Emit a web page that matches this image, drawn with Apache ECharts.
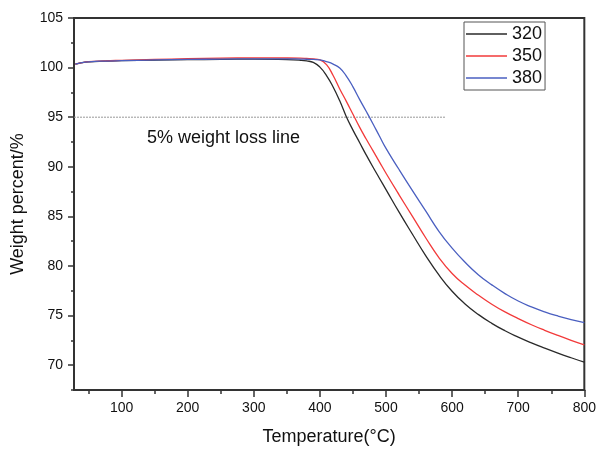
<!DOCTYPE html>
<html>
<head>
<meta charset="utf-8">
<script src="https://cdn.jsdelivr.net/npm/echarts@6/dist/echarts.min.js"></script>
<style>html,body{margin:0;padding:0;background:#fff}#c{width:599px;height:451px}</style>
</head>
<body>
<div id="c"></div>
<script>
const temps = [30, 40, 50, 75, 100, 150, 200, 250, 300, 350, 370, 380, 390, 400, 410, 420, 430, 440, 450, 460, 470, 480, 490, 500, 520, 540, 560, 580, 600, 620, 640, 660, 680, 700, 720, 740, 760, 780, 800];
const w320 = [100.35, 100.5, 100.58, 100.65, 100.7, 100.75, 100.8, 100.83, 100.85, 100.8, 100.74, 100.67, 100.52, 100.05, 99.2, 98.05, 96.65, 95.05, 93.7, 92.45, 91.2, 90.0, 88.85, 87.7, 85.4, 83.2, 81.05, 79.1, 77.45, 76.15, 75.1, 74.22, 73.47, 72.83, 72.25, 71.72, 71.22, 70.75, 70.3];
const w350 = [100.35, 100.5, 100.6, 100.68, 100.73, 100.82, 100.9, 100.96, 100.98, 100.97, 100.95, 100.92, 100.88, 100.78, 100.3, 99.2, 97.85, 96.6, 95.3, 94.0, 92.8, 91.65, 90.5, 89.35, 87.15, 85.0, 82.85, 80.85, 79.25, 78.05, 77.05, 76.15, 75.37, 74.7, 74.08, 73.52, 73.0, 72.51, 72.05];
const w380 = [100.35, 100.5, 100.58, 100.66, 100.7, 100.77, 100.82, 100.86, 100.88, 100.88, 100.86, 100.84, 100.82, 100.78, 100.6, 100.35, 99.95, 99.15, 98.05, 96.8, 95.6, 94.37, 93.1, 91.85, 89.7, 87.6, 85.55, 83.5, 81.8, 80.35, 79.1, 78.1, 77.22, 76.47, 75.88, 75.38, 74.96, 74.6, 74.3];
const seriesNames = ['320', '350', '380'];
const xTicks = [100, 200, 300, 400, 500, 600, 700, 800];
const xMinor = [50, 150, 250, 350, 450, 550, 650, 750];
const yTicks = [70, 75, 80, 85, 90, 95, 100, 105];
const yMinor = [67.5, 72.5, 77.5, 82.5, 87.5, 92.5, 97.5, 102.5];
const lossLevel = 95;
const lossRange = [28, 590];
const lossText = '5% weight loss line';

const font = 'Liberation Sans, Arial, Helvetica, sans-serif';
const zip = (a, b) => a.map((v, i) => [v, b[i]]);
const chart = echarts.init(document.getElementById('c'), null, {renderer: 'canvas'});
const colors = ['#2a2a2a', '#f23a3a', '#4a5fc0'];
const dataSets = [w320, w350, w380];

chart.setOption({
  animation: false,
  grid: {left: 74, top: 18, right: 12, bottom: 59, show: true, borderColor: '#333', borderWidth: 2, containLabel: false},
  legend: {
    data: seriesNames, orient: 'vertical', left: 464, top: 22,
    icon: 'rect', itemWidth: 41, itemHeight: 1.5, itemGap: 4, padding: [3, 3, 3, 2],
    borderColor: '#555', borderWidth: 1,
    textStyle: {fontFamily: font, fontSize: 18, lineHeight: 18, color: '#111', padding: [0, 0, 0, 0]}
  },
  xAxis: [{
    type: 'value', min: 28, max: 800,
    name: 'Temperature(°C)', nameLocation: 'middle', nameGap: 38,
    nameTextStyle: {fontFamily: font, fontSize: 18, color: '#111'},
    axisLine: {show: true, lineStyle: {color: '#333', width: 2}},
    axisTick: {show: true, inside: false, length: 7, lineStyle: {width: 1.5, color: '#333'}, customValues: xTicks},
    axisLabel: {fontFamily: font, fontSize: 14, color: '#111', margin: 11, customValues: xTicks},
    splitLine: {show: false}
  }, {
    type: 'value', min: 28, max: 800, position: 'bottom',
    axisLine: {show: false},
    axisTick: {show: true, inside: false, length: 4, lineStyle: {width: 1.5, color: '#333'}, customValues: xMinor},
    axisLabel: {show: false},
    splitLine: {show: false}
  }],
  yAxis: [{
    type: 'value', min: 67.5, max: 105,
    name: 'Weight percent/%', nameLocation: 'middle', nameGap: 47,
    nameTextStyle: {fontFamily: font, fontSize: 18, color: '#111'},
    axisLine: {show: true, lineStyle: {color: '#333', width: 2}},
    axisTick: {show: true, inside: false, length: 6, lineStyle: {width: 1.5, color: '#333'}, customValues: yTicks},
    axisLabel: {fontFamily: font, fontSize: 14, color: '#111', margin: 11, customValues: yTicks},
    splitLine: {show: false}
  }, {
    type: 'value', min: 67.5, max: 105, position: 'left',
    axisLine: {show: false},
    axisTick: {show: true, inside: false, length: 3, lineStyle: {width: 1.5, color: '#333'}, customValues: yMinor},
    axisLabel: {show: false},
    splitLine: {show: false}
  }],
  series: [
    ...seriesNames.map((n, i) => ({
      name: n, type: 'line', smooth: true, symbol: 'none', xAxisIndex: 0, yAxisIndex: 0,
      data: zip(temps, dataSets[i]),
      lineStyle: {color: colors[i], width: 1.3}, itemStyle: {color: colors[i]}, z: 3 + i
    })),
    {
      name: 'loss', type: 'line', symbol: 'none', xAxisIndex: 0, yAxisIndex: 0,
      data: lossRange.map(x => [x, lossLevel]),
      lineStyle: {color: '#999', width: 1, type: [2, 1]}, z: 2,
      silent: true
    }
  ],
  graphic: [{
    type: 'text', left: 147, top: 129,
    style: {text: lossText, fontFamily: font, fontSize: 18, fill: '#111'}
  }]
});
</script>
</body>
</html>
